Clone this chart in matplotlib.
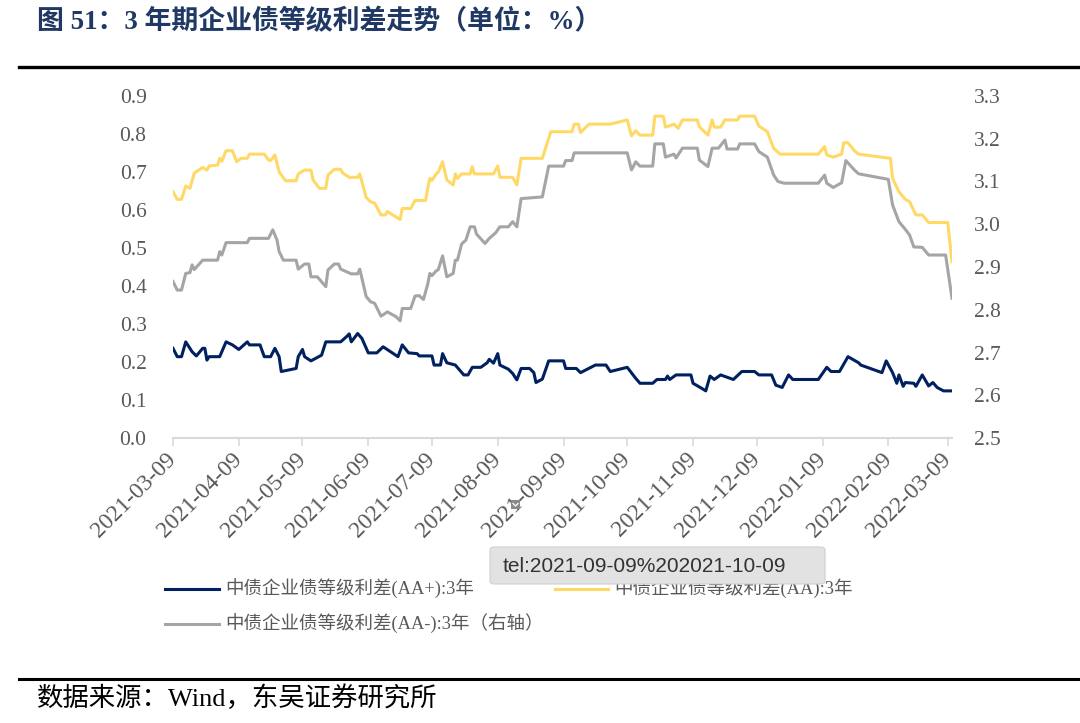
import pandas as pd
import matplotlib
matplotlib.use('Agg')
import matplotlib.pyplot as plt
import matplotlib.dates as mdates
from matplotlib.lines import Line2D
from matplotlib.patches import FancyBboxPatch, Rectangle

plt.rcParams['font.family'] = ['Liberation Serif', 'Noto Sans CJK SC']

# 中债企业债等级利差(AA+):3年，左轴
aa_plus_dates = [
    '2021-03-09', '2021-03-11', '2021-03-13', '2021-03-15', '2021-03-18', '2021-03-20', '2021-03-23', '2021-03-24', '2021-03-25', '2021-03-26',
    '2021-03-31', '2021-04-03', '2021-04-06', '2021-04-09', '2021-04-13', '2021-04-14', '2021-04-19', '2021-04-21', '2021-04-24', '2021-04-26',
    '2021-04-28', '2021-04-29', '2021-05-06', '2021-05-07', '2021-05-09', '2021-05-10', '2021-05-13', '2021-05-18', '2021-05-20', '2021-05-27',
    '2021-05-30', '2021-05-31', '2021-06-01', '2021-06-04', '2021-06-06', '2021-06-09', '2021-06-13', '2021-06-16', '2021-06-23', '2021-06-25',
    '2021-06-28', '2021-07-02', '2021-07-03', '2021-07-09', '2021-07-10', '2021-07-13', '2021-07-14', '2021-07-16', '2021-07-20', '2021-07-24',
    '2021-07-26', '2021-07-28', '2021-08-01', '2021-08-04', '2021-08-05', '2021-08-07', '2021-08-09', '2021-08-10', '2021-08-14', '2021-08-16',
    '2021-08-18', '2021-08-20', '2021-08-24', '2021-08-26', '2021-08-27', '2021-08-30', '2021-09-02', '2021-09-09', '2021-09-10', '2021-09-15',
    '2021-09-17', '2021-09-24', '2021-09-29', '2021-10-01', '2021-10-09', '2021-10-13', '2021-10-15', '2021-10-21', '2021-10-23', '2021-10-27',
    '2021-10-28', '2021-10-29', '2021-11-01', '2021-11-08', '2021-11-09', '2021-11-13', '2021-11-15', '2021-11-17', '2021-11-19', '2021-11-22',
    '2021-11-28', '2021-12-02', '2021-12-08', '2021-12-10', '2021-12-16', '2021-12-18', '2021-12-21', '2021-12-22', '2021-12-24', '2021-12-26',
    '2022-01-07', '2022-01-11', '2022-01-13', '2022-01-17', '2022-01-21', '2022-01-26', '2022-01-27', '2022-02-06', '2022-02-08', '2022-02-11',
    '2022-02-13', '2022-02-14', '2022-02-16', '2022-02-17', '2022-02-21', '2022-02-22', '2022-02-25', '2022-02-28', '2022-03-02', '2022-03-04',
    '2022-03-07', '2022-03-11']
aa_plus_vals = [
    0.236, 0.214, 0.214, 0.253, 0.227, 0.216, 0.236, 0.236, 0.205, 0.214,
    0.214, 0.253, 0.245, 0.233, 0.253, 0.245, 0.245, 0.214, 0.214, 0.236,
    0.214, 0.175, 0.183, 0.214, 0.233, 0.214, 0.203, 0.218, 0.253, 0.253,
    0.268, 0.274, 0.253, 0.275, 0.262, 0.224, 0.224, 0.240, 0.214, 0.245,
    0.224, 0.222, 0.216, 0.216, 0.192, 0.192, 0.222, 0.198, 0.192, 0.166,
    0.166, 0.186, 0.186, 0.198, 0.207, 0.197, 0.222, 0.192, 0.181, 0.170,
    0.153, 0.183, 0.183, 0.172, 0.146, 0.155, 0.203, 0.203, 0.183, 0.183,
    0.172, 0.192, 0.192, 0.175, 0.186, 0.157, 0.144, 0.144, 0.154, 0.154,
    0.163, 0.154, 0.166, 0.166, 0.144, 0.131, 0.124, 0.163, 0.154, 0.166,
    0.154, 0.175, 0.175, 0.166, 0.166, 0.139, 0.133, 0.144, 0.166, 0.154,
    0.154, 0.186, 0.175, 0.175, 0.214, 0.198, 0.192, 0.172, 0.203, 0.172,
    0.144, 0.166, 0.136, 0.146, 0.144, 0.136, 0.166, 0.137, 0.146, 0.133,
    0.124, 0.124]

# 中债企业债等级利差(AA):3年，左轴
aa_dates = [
    '2021-03-09', '2021-03-11', '2021-03-13', '2021-03-15', '2021-03-17', '2021-03-19', '2021-03-23', '2021-03-25', '2021-03-26', '2021-03-30',
    '2021-03-31', '2021-04-01', '2021-04-03', '2021-04-06', '2021-04-08', '2021-04-10', '2021-04-13', '2021-04-14', '2021-04-21', '2021-04-23',
    '2021-04-24', '2021-04-26', '2021-04-28', '2021-05-01', '2021-05-06', '2021-05-07', '2021-05-10', '2021-05-13', '2021-05-14', '2021-05-17',
    '2021-05-20', '2021-05-21', '2021-05-24', '2021-05-27', '2021-05-28', '2021-05-31', '2021-06-04', '2021-06-05', '2021-06-08', '2021-06-10',
    '2021-06-12', '2021-06-15', '2021-06-17', '2021-06-18', '2021-06-22', '2021-06-24', '2021-06-25', '2021-06-29', '2021-07-01', '2021-07-06',
    '2021-07-07', '2021-07-08', '2021-07-09', '2021-07-11', '2021-07-12', '2021-07-14', '2021-07-16', '2021-07-19', '2021-07-20', '2021-07-21',
    '2021-07-23', '2021-07-27', '2021-07-28', '2021-07-29', '2021-08-07', '2021-08-09', '2021-08-10', '2021-08-16', '2021-08-18', '2021-08-20',
    '2021-08-30', '2021-09-03', '2021-09-13', '2021-09-14', '2021-09-16', '2021-09-17', '2021-09-21', '2021-10-01', '2021-10-09', '2021-10-11',
    '2021-10-13', '2021-10-15', '2021-10-21', '2021-10-22', '2021-10-26', '2021-10-27', '2021-10-31', '2021-11-02', '2021-11-04', '2021-11-11',
    '2021-11-12', '2021-11-16', '2021-11-18', '2021-11-19', '2021-11-22', '2021-11-24', '2021-11-30', '2021-12-01', '2021-12-08', '2021-12-10',
    '2021-12-14', '2021-12-17', '2021-12-20', '2022-01-07', '2022-01-10', '2022-01-11', '2022-01-14', '2022-01-18', '2022-01-19', '2022-01-21',
    '2022-01-24', '2022-01-26', '2022-02-10', '2022-02-11', '2022-02-14', '2022-02-17', '2022-02-19', '2022-02-22', '2022-02-25', '2022-02-28',
    '2022-03-09', '2022-03-11']
aa_vals = [
    0.648, 0.628, 0.628, 0.663, 0.657, 0.697, 0.712, 0.705, 0.716, 0.718,
    0.736, 0.728, 0.756, 0.756, 0.727, 0.736, 0.736, 0.747, 0.747, 0.732,
    0.730, 0.745, 0.700, 0.677, 0.677, 0.695, 0.705, 0.705, 0.679, 0.657,
    0.657, 0.692, 0.707, 0.707, 0.697, 0.686, 0.686, 0.695, 0.633, 0.622,
    0.618, 0.587, 0.587, 0.596, 0.582, 0.575, 0.604, 0.604, 0.625, 0.625,
    0.657, 0.683, 0.678, 0.695, 0.700, 0.727, 0.679, 0.666, 0.695, 0.683,
    0.695, 0.695, 0.714, 0.695, 0.695, 0.716, 0.686, 0.686, 0.666, 0.736,
    0.736, 0.806, 0.806, 0.826, 0.826, 0.804, 0.826, 0.826, 0.837, 0.795,
    0.809, 0.797, 0.797, 0.847, 0.847, 0.818, 0.826, 0.815, 0.837, 0.837,
    0.819, 0.797, 0.837, 0.818, 0.818, 0.837, 0.837, 0.847, 0.847, 0.821,
    0.806, 0.762, 0.747, 0.747, 0.767, 0.745, 0.739, 0.747, 0.777, 0.777,
    0.756, 0.747, 0.736, 0.683, 0.648, 0.628, 0.622, 0.587, 0.587, 0.567,
    0.567, 0.464]

# 中债企业债等级利差(AA-):3年，右轴
aa_minus_dates = [
    '2021-03-09', '2021-03-11', '2021-03-13', '2021-03-15', '2021-03-17', '2021-03-18', '2021-03-19', '2021-03-23', '2021-03-30', '2021-03-31',
    '2021-04-01', '2021-04-03', '2021-04-13', '2021-04-14', '2021-04-23', '2021-04-25', '2021-04-27', '2021-04-28', '2021-04-30', '2021-05-06',
    '2021-05-07', '2021-05-10', '2021-05-12', '2021-05-13', '2021-05-16', '2021-05-20', '2021-05-21', '2021-05-24', '2021-05-26', '2021-05-27',
    '2021-06-01', '2021-06-04', '2021-06-05', '2021-06-08', '2021-06-10', '2021-06-12', '2021-06-15', '2021-06-18', '2021-06-22', '2021-06-24',
    '2021-06-25', '2021-06-29', '2021-07-01', '2021-07-03', '2021-07-05', '2021-07-07', '2021-07-08', '2021-07-09', '2021-07-11', '2021-07-12',
    '2021-07-14', '2021-07-16', '2021-07-19', '2021-07-20', '2021-07-21', '2021-07-23', '2021-07-25', '2021-07-27', '2021-07-29', '2021-07-30',
    '2021-08-03', '2021-08-05', '2021-08-08', '2021-08-10', '2021-08-14', '2021-08-16', '2021-08-18', '2021-08-20', '2021-08-30', '2021-09-02',
    '2021-09-09', '2021-09-10', '2021-09-13', '2021-09-14', '2021-10-09', '2021-10-11', '2021-10-13', '2021-10-15', '2021-10-21', '2021-10-22',
    '2021-10-26', '2021-10-27', '2021-10-31', '2021-11-01', '2021-11-04', '2021-11-11', '2021-11-12', '2021-11-16', '2021-11-18', '2021-11-21',
    '2021-11-24', '2021-11-25', '2021-11-30', '2021-12-01', '2021-12-08', '2021-12-10', '2021-12-14', '2021-12-17', '2021-12-19', '2021-12-22',
    '2022-01-07', '2022-01-10', '2022-01-11', '2022-01-14', '2022-01-18', '2022-01-20', '2022-01-24', '2022-01-26', '2022-02-09', '2022-02-11',
    '2022-02-14', '2022-02-17', '2022-02-19', '2022-02-21', '2022-02-25', '2022-02-28', '2022-03-08', '2022-03-11']
aa_minus_vals = [
    2.866, 2.846, 2.846, 2.885, 2.887, 2.905, 2.894, 2.916, 2.916, 2.936,
    2.928, 2.957, 2.957, 2.967, 2.967, 2.987, 2.963, 2.936, 2.916, 2.916,
    2.895, 2.907, 2.907, 2.877, 2.877, 2.854, 2.893, 2.907, 2.907, 2.895,
    2.884, 2.884, 2.895, 2.831, 2.819, 2.815, 2.785, 2.795, 2.784, 2.774,
    2.803, 2.803, 2.832, 2.833, 2.824, 2.860, 2.885, 2.880, 2.891, 2.894,
    2.926, 2.877, 2.885, 2.916, 2.916, 2.954, 2.963, 2.994, 2.994, 2.977,
    2.955, 2.967, 2.980, 2.994, 2.994, 3.006, 2.994, 3.060, 3.064, 3.136,
    3.136, 3.149, 3.149, 3.167, 3.167, 3.127, 3.146, 3.136, 3.136, 3.188,
    3.188, 3.157, 3.164, 3.155, 3.178, 3.178, 3.150, 3.135, 3.178, 3.178,
    3.197, 3.176, 3.176, 3.188, 3.188, 3.170, 3.157, 3.115, 3.100, 3.096,
    3.096, 3.115, 3.096, 3.086, 3.097, 3.149, 3.127, 3.118, 3.105, 3.045,
    3.006, 2.988, 2.975, 2.947, 2.946, 2.928, 2.928, 2.827]

month_ticks = ['2021-03-09', '2021-04-09', '2021-05-09', '2021-06-09', '2021-07-09', '2021-08-09', '2021-09-09',
               '2021-10-09', '2021-11-09', '2021-12-09', '2022-01-09', '2022-02-09', '2022-03-09']

labels = ['中债企业债等级利差(AA+):3年', '中债企业债等级利差(AA):3年', '中债企业债等级利差(AA-):3年（右轴）']
colors = ['#002060', '#FFD966', '#A5A5A5']

W, H = 1080, 723


def fx(x):
    return x / W


def fy(y):
    return 1 - y / H


fig = plt.figure(figsize=(W / 100, H / 100), dpi=100)
fig.patch.set_facecolor('white')

ax = fig.add_axes([fx(173), fy(438), fx(952) - fx(173), fy(96) - fy(438)])
ax2 = ax.twinx()

l1, = ax.plot(pd.to_datetime(aa_plus_dates), aa_plus_vals, color=colors[0], lw=2.2, label=labels[0])
l2, = ax.plot(pd.to_datetime(aa_dates), aa_vals, color=colors[1], lw=2.2, label=labels[1])
l3, = ax2.plot(pd.to_datetime(aa_minus_dates), aa_minus_vals, color=colors[2], lw=2.2, label=labels[2])

ax.set_xlim(pd.Timestamp('2021-03-09'), pd.Timestamp('2022-03-11'))
ax.set_ylim(0, 0.9)
ax2.set_ylim(2.5, 3.3)
ax.set_yticks([i / 10 for i in range(10)])
ax.set_yticklabels([f'{i / 10:.1f}' for i in range(10)])
ax2.set_yticks([2.5 + i / 10 for i in range(9)])
ax2.set_yticklabels([f'{2.5 + i / 10:.1f}' for i in range(9)])

ax.set_xticks(pd.to_datetime(month_ticks))
ax.xaxis.set_major_formatter(mdates.DateFormatter('%Y-%m-%d'))
for lab in ax.get_xticklabels():
    lab.set_rotation(45)
    lab.set_ha('right')
    lab.set_va('center')
    lab.set_rotation_mode('anchor')

for a in (ax, ax2):
    for s in a.spines.values():
        s.set_visible(False)
ax.spines['bottom'].set_visible(True)
ax.spines['bottom'].set_color('#D9D9D9')
ax.spines['bottom'].set_linewidth(1.5)

ax.tick_params(axis='x', colors='#595959', labelsize=17, length=6, width=1.2, color='#D9D9D9', pad=7)
ax.tick_params(axis='y', colors='#595959', labelsize=15.5, length=0, pad=19)
ax2.tick_params(axis='y', colors='#595959', labelsize=15.5, length=0, pad=16)

# 图例
leg = fig.legend(handles=[l1, l3, l2], labels=[labels[0], labels[2], labels[1]],
                 loc='upper left', bbox_to_anchor=(fx(165), fy(579)), ncol=2, frameon=False,
                 fontsize=13.3, handlelength=2.9, handletextpad=0.35, columnspacing=0.6,
                 labelspacing=0.82, borderpad=0, borderaxespad=0, labelcolor='#595959')

# 标题与线
fig.text(fx(37), fy(22), '图 51：3 年期企业债等级利差走势（单位：%）', fontsize=19.4, fontweight='bold',
         color='#203864', ha='left', va='center')
fig.add_artist(Line2D([fx(19), 1], [fy(67), fy(67)], color='black', lw=2.4))
fig.add_artist(Line2D([fx(19), 1], [fy(679), fy(679)], color='black', lw=2.2))
fig.text(fx(37), fy(698), '数据来源：Wind，东吴证券研究所', fontsize=19, color='black', ha='left', va='center')

# 截图中的浮动提示
tip = FancyBboxPatch((fx(490), fy(584)), fx(825) - fx(490), fy(547) - fy(584),
                     boxstyle='round,pad=0,rounding_size=0.004', transform=fig.transFigure,
                     facecolor='#E2E2E2', edgecolor='#D0D0D0', lw=0.8, zorder=10)
fig.add_artist(tip)
fig.text(fx(503), fy(566), 'tel:2021-09-09%202021-10-09', fontsize=15, family='Liberation Sans',
         color='#333333', ha='left', va='center', zorder=11)
icon = Rectangle((fx(511), fy(509)), fx(9), fx(9) * W / H, transform=fig.transFigure,
                 facecolor='#8A8A8A', edgecolor='none', zorder=10)
fig.add_artist(icon)
fig.add_artist(Line2D([fx(513), fx(515.5), fx(518)], [fy(503.5), fy(506), fy(503.5)],
                      color='white', lw=0.9, zorder=11))

fig.savefig('out.png', dpi=100)
